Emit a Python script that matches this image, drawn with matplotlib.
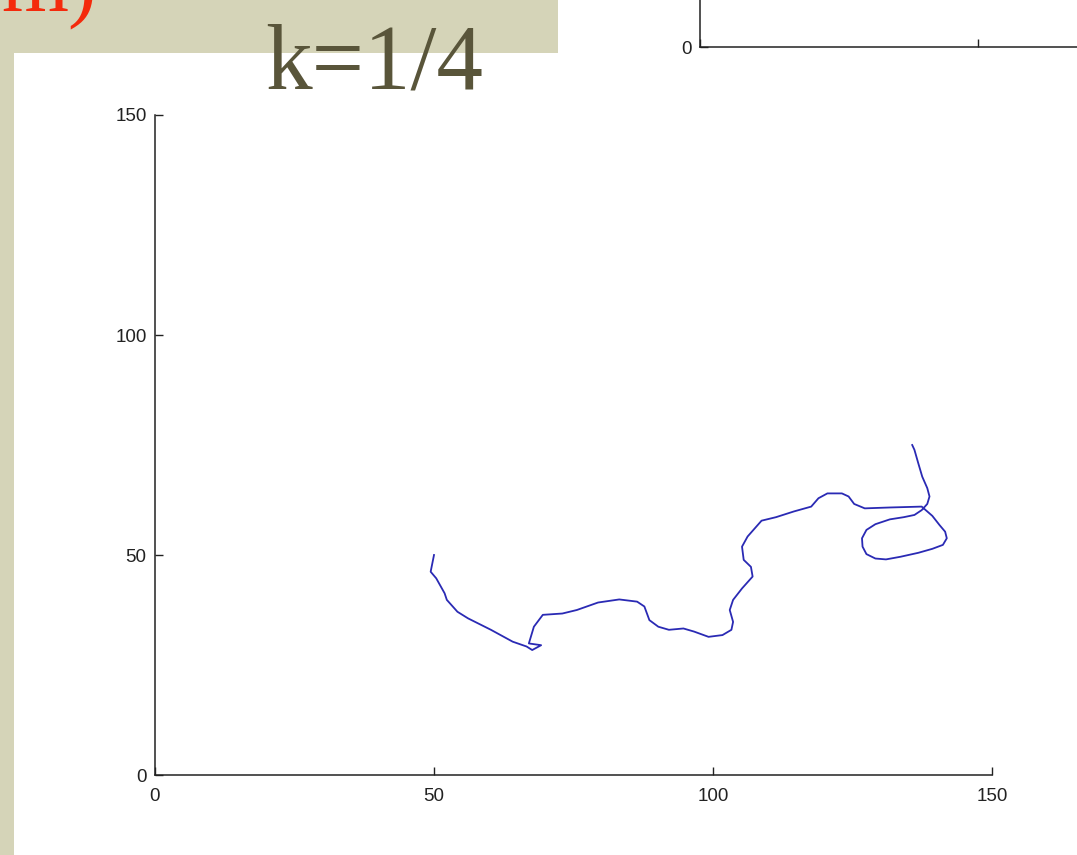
import matplotlib
matplotlib.use("Agg")
import matplotlib.pyplot as plt
from matplotlib.patches import Rectangle

# ---- data ----
path_x = [50.0, 49.4, 50.4, 51.9, 52.3, 54.2, 56.1, 60.2, 64.1, 66.6, 67.6, 69.2, 67.0,
          67.9, 69.5, 73.0, 75.6, 79.4, 83.2, 86.4, 87.7, 88.6, 90.2, 92.1, 94.7, 96.6,
          99.2, 101.7, 103.3, 103.6, 103.0, 103.6, 105.2, 107.1, 106.8, 105.5, 105.2,
          106.2, 108.7, 111.3, 114.5, 117.6, 118.9, 120.5, 123.1, 124.3, 125.3, 127.2,
          131.7, 137.4, 139.3, 140.6, 141.6, 141.9, 141.2, 139.3, 136.8, 133.6, 131.0,
          129.1, 127.5, 126.8, 126.7, 127.5, 129.1, 131.7, 134.2, 136.1, 137.4, 138.4,
          138.8, 138.4, 137.5, 136.8, 136.1, 135.7]
path_y = [50.0, 46.2, 44.7, 41.3, 39.8, 37.1, 35.6, 33.0, 30.3, 29.2, 28.4, 29.5, 29.9,
          33.7, 36.4, 36.7, 37.5, 39.2, 39.9, 39.4, 38.3, 35.2, 33.7, 33.0, 33.3, 32.6,
          31.4, 31.8, 33.0, 34.8, 37.5, 39.8, 42.4, 45.1, 47.3, 48.9, 51.9, 54.2, 57.8,
          58.6, 59.9, 61.0, 62.9, 64.0, 64.0, 63.3, 61.6, 60.6, 60.8, 61.0, 58.9, 56.8,
          55.3, 53.8, 52.3, 51.4, 50.5, 49.6, 49.0, 49.2, 50.2, 51.9, 53.8, 55.7, 57.0,
          58.1, 58.6, 59.1, 60.2, 61.6, 63.3, 65.2, 67.8, 70.8, 73.9, 75.0]
x_ticks = [0, 50, 100, 150]
y_ticks = [0, 50, 100, 150]
top_y_ticks = [0]
title_text = "k=1/4"
cut_text = "m)"

W, H = 1077, 855
fig = plt.figure(figsize=(W / 100, H / 100), dpi=100)
fig.patch.set_facecolor("white")

beige = "#d5d4b8"
fig.add_artist(Rectangle((0, 1 - 53 / H), 558 / W, 53 / H, transform=fig.transFigure,
                         facecolor=beige, edgecolor="none", zorder=0))
fig.add_artist(Rectangle((0, 0), 14 / W, 1, transform=fig.transFigure,
                         facecolor=beige, edgecolor="none", zorder=0))

tick_font = dict(family=["Liberation Sans", "DejaVu Sans"], size=13.5, color="#222222")

def style_axes(ax):
    for s in ("top", "right"):
        ax.spines[s].set_visible(False)
    for s in ("left", "bottom"):
        ax.spines[s].set_linewidth(1.1)
        ax.spines[s].set_color("#222222")
    ax.tick_params(direction="in", length=6, width=1.0, color="#222222")
    ax.set_facecolor("none")

# partial axes at top right
ax2 = fig.add_axes([700 / W, 1 - 47 / H, 834 / W, 0.3])
style_axes(ax2)
ax2.set_xlim(0, 150)
ax2.set_ylim(0, 150)
ax2.set_xticks(x_ticks)
ax2.set_xticklabels([])
ax2.set_yticks(top_y_ticks)
ax2.set_yticklabels([str(t) for t in top_y_ticks], fontdict=tick_font)
ax2.tick_params(axis="y", pad=6)

# main axes
ax = fig.add_axes([155 / W, 1 - 775 / H, 837 / W, 660 / H])
style_axes(ax)
ax.plot(path_x, path_y, color="#2a2ab4", linewidth=1.3)
ax.set_xlim(0, 150)
ax.set_ylim(0, 150)
ax.set_xticks(x_ticks)
ax.set_yticks(y_ticks)
ax.set_xticklabels([str(t) for t in x_ticks], fontdict=tick_font)
ax.set_yticklabels([str(t) for t in y_ticks], fontdict=tick_font)
ax.tick_params(axis="x", pad=9)
ax.tick_params(axis="y", pad=6)

fig.text(265 / W, 1 - 88 / H, title_text, family=["Liberation Serif", "DejaVu Serif"],
         size=67, color="#59553a", ha="left", va="baseline", zorder=5)
fig.text(97 / W, 1 - 10 / H, cut_text, family=["Liberation Serif", "DejaVu Serif"],
         size=62, color="#f42a0c", ha="right", va="baseline", zorder=5)

fig.savefig("out.png", dpi=100, facecolor=fig.get_facecolor())
